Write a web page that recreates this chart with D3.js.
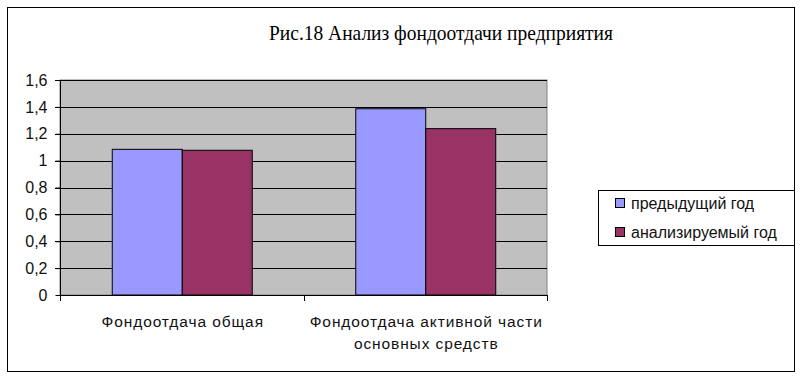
<!DOCTYPE html>
<html><head><meta charset="utf-8">
<script src="https://cdn.jsdelivr.net/npm/d3@7"></script>
<style>body{margin:0;background:#fff}svg{display:block}</style>
</head><body>
<script>
const categories = [["Фондоотдача общая"], ["Фондоотдача активной части", "основных средств"]];
const seriesNames = ["предыдущий год", "анализируемый год"];
const prevYear = [1.084, 1.386];
const analYear = [1.077, 1.238];
const yTicks = [0, 0.2, 0.4, 0.6, 0.8, 1, 1.2, 1.4, 1.6];
const colors = ["#9999ff", "#993366"];

(function () {
const W = 802, H = 378;
const svg = d3.select("body").append("svg").attr("width", W).attr("height", H);
svg.append("rect").attr("x", 7.5).attr("y", 7.5).attr("width", 787).attr("height", 364)
  .attr("fill", "#fff").attr("stroke", "#000").attr("stroke-width", 1);

const pL = 60, pR = 547, pT = 80, pB = 295;
const x = d3.scaleBand().domain(d3.range(categories.length)).range([pL, pR]);
const y = d3.scaleLinear().domain([0, 1.6]).range([pB, pT]);
const inner = d3.scaleBand().domain([0, 1]).range([0, 140]);

svg.append("rect").attr("x", pL).attr("y", pT).attr("width", pR - pL).attr("height", pB - pT)
  .attr("fill", "#c0c0c0").attr("stroke", "#808080");

svg.append("g").selectAll("line").data(yTicks.filter(t => t > 0)).join("line")
  .attr("x1", pL - 5).attr("x2", pR).attr("y1", d => Math.round(y(d)) + 0.5).attr("y2", d => Math.round(y(d)) + 0.5)
  .attr("stroke", "#000");

const yAxis = svg.append("g").attr("transform", `translate(${pL + 0.5},0)`)
  .call(d3.axisLeft(y).tickValues(yTicks).tickSize(5).tickPadding(8)
    .tickFormat(d => String(d).replace(".", ",")));
yAxis.select(".domain").remove();
yAxis.append("line").attr("x1", 0).attr("x2", 0).attr("y1", pT).attr("y2", pB + 5).attr("stroke", "#000");
yAxis.selectAll("text").attr("font-family", "Liberation Sans, Arial, sans-serif").attr("font-size", 16).attr("fill", "#111");
yAxis.selectAll(".tick line").attr("stroke", "#000");

const data = categories.map((c, i) => [prevYear[i], analYear[i]]);
const groups = svg.append("g").selectAll("g").data(data).join("g")
  .attr("transform", (d, i) => `translate(${x(i) + (x.bandwidth() - 140) / 2},0)`);
groups.selectAll("rect").data(d => d).join("rect")
  .attr("x", (d, j) => inner(j) + 0.5).attr("width", inner.bandwidth())
  .attr("y", d => y(d)).attr("height", d => pB - y(d))
  .attr("fill", (d, j) => colors[j]).attr("stroke", "#000").attr("stroke-width", 1);

svg.append("line").attr("x1", pL).attr("x2", pR + 0.5).attr("y1", pB + 0.5).attr("y2", pB + 0.5).attr("stroke", "#000");
const xt = [pL, x(1), pR];
svg.append("g").selectAll("line").data(xt).join("line")
  .attr("x1", d => Math.round(d) + 0.5).attr("x2", d => Math.round(d) + 0.5)
  .attr("y1", pB).attr("y2", pB + 6).attr("stroke", "#000");

const lab = svg.append("g").selectAll("text").data(categories).join("text")
  .attr("text-anchor", "middle")
  .attr("font-family", "Liberation Sans, Arial, sans-serif").attr("font-size", 15.5)
  .attr("letter-spacing", 0.9).attr("fill", "#111");
lab.selectAll("tspan").data((d, i) => d.map(t => ({ t, i }))).join("tspan")
  .attr("x", d => x(d.i) + x.bandwidth() / 2 + 1).attr("y", (d, k) => 327 + k * 22)
  .text(d => d.t);

svg.append("text").attr("x", 441).attr("y", 40).attr("text-anchor", "middle")
  .attr("font-family", "Liberation Serif, Times New Roman, serif").attr("font-size", 22)
  .attr("textLength", 344).attr("lengthAdjust", "spacingAndGlyphs")
  .text("Рис.18 Анализ фондоотдачи предприятия");

svg.append("rect").attr("x", 598.5).attr("y", 190.5).attr("width", 220).attr("height", 55)
  .attr("fill", "#fff").attr("stroke", "#000");
svg.append("rect").attr("x", 795).attr("y", 0).attr("width", 7).attr("height", H).attr("fill", "#fff");
svg.append("line").attr("x1", 794.5).attr("x2", 794.5).attr("y1", 7).attr("y2", 372).attr("stroke", "#000");
const leg = svg.append("g").selectAll("g").data(seriesNames).join("g")
  .attr("transform", (d, i) => `translate(615,${198 + i * 29})`);
leg.append("rect").attr("x", 0.5).attr("y", 0.5).attr("width", 9).attr("height", 9)
  .attr("fill", (d, i) => colors[i]).attr("stroke", "#000");
leg.append("text").attr("x", 16).attr("y", 10.5).attr("font-family", "Liberation Sans, Arial, sans-serif")
  .attr("font-size", 16).attr("fill", "#111").text(d => d);
})();
</script>
</body></html>
